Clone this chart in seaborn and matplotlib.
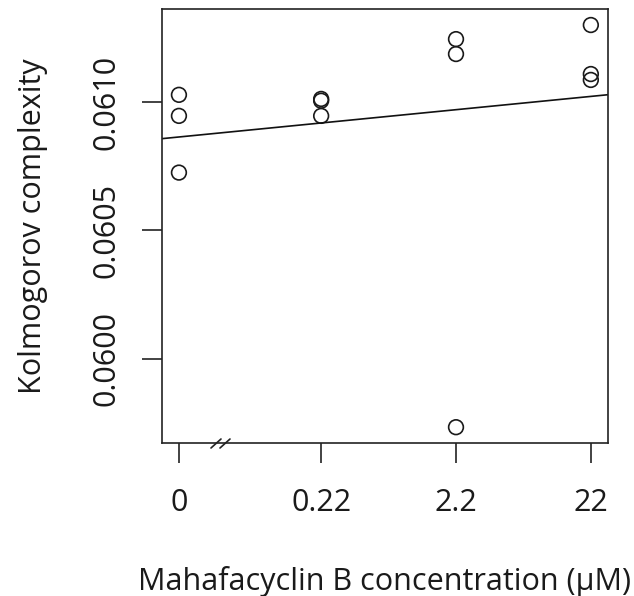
import numpy as np
import pandas as pd
import matplotlib
matplotlib.use("Agg")
import matplotlib.pyplot as plt
import seaborn as sns

# ---- data ----
tick_labels = ["0", "0.22", "2.2", "22"]
concentration = [0.0, 0.22, 2.2, 22.0]
zero_shown_at = 0.0194          # where the 0 concentration is placed on the log axis
kc_0 = [0.061028, 0.060946, 0.060725]
kc_022 = [0.061012, 0.061005, 0.060946]
kc_22b = [0.061245, 0.061187, 0.059733]
kc_22 = [0.061300, 0.061109, 0.061086]
groups = [kc_0, kc_022, kc_22b, kc_22]

xpos = [np.log10(c if c > 0 else zero_shown_at) for c in concentration]
df = pd.DataFrame({
    "x": np.repeat(xpos, [len(g) for g in groups]),
    "y": np.concatenate(groups),
})

sns.set_style("white")
plt.rcParams["font.family"] = ["Open Sans", "DejaVu Sans"]

W, H = 634, 596
fig = plt.figure(figsize=(W / 100, H / 100), dpi=100)
L, R, T, B = 162.3, 607.7, 9, 442.7
ax = fig.add_axes([L / W, 1 - B / H, (R - L) / W, (B - T) / H])

ax.set_xlim(-1.8356, 1.4674)
ax.set_ylim(0.0596726, 0.0613624)

sns.regplot(data=df, x="x", y="y", ax=ax, ci=None, truncate=False,
            scatter_kws=dict(facecolors="none", edgecolors="#1a1a1a", s=112,
                             linewidths=1.2, alpha=1),
            line_kws=dict(color="#111111", lw=1.2))
ax.set_xlim(-1.8356, 1.4674)

for s in ax.spines.values():
    s.set_visible(True)
    s.set_color("#222222")
    s.set_linewidth(1.2)

ax.set_xticks(xpos)
ax.set_xticklabels(tick_labels)
ax.set_yticks([0.0600, 0.0605, 0.0610])
ax.set_yticklabels(["0.0600", "0.0605", "0.0610"], rotation=90, va="center")
ax.tick_params(axis="both", which="both", direction="out", length=14.4,
               width=1.2, color="#222222", labelsize=22, labelcolor="#1a1a1a",
               bottom=True, left=True, top=False, right=False)
ax.tick_params(axis="x", pad=18)
ax.tick_params(axis="y", pad=15)

ax.set_xlabel("Mahafacyclin B concentration (µM)", fontsize=22, color="#1a1a1a",
              labelpad=35)
ax.set_ylabel("Kolmogorov complexity", fontsize=22, color="#1a1a1a", labelpad=31)

# axis break mark
for dx in (0, 9):
    x0, x1 = 211 + dx, 221 + dx
    ax.plot([(x0 - L) / (R - L), (x1 - L) / (R - L)],
            [(B - 448) / (B - T), (B - 439) / (B - T)],
            transform=ax.transAxes, color="#222222", lw=1.2, clip_on=False)

fig.savefig("out.png", dpi=100)
